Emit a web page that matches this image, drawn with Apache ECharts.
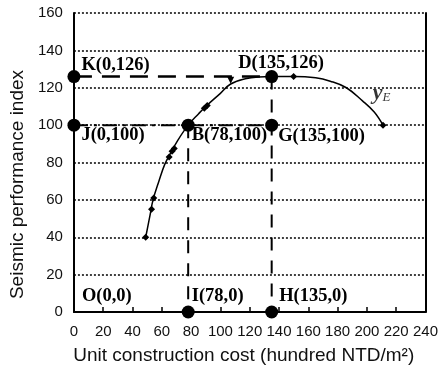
<!DOCTYPE html>
<html><head><meta charset="utf-8">
<script src="https://cdn.jsdelivr.net/npm/echarts@6/dist/echarts.min.js"></script>
<style>html,body{margin:0;padding:0;background:#fff}#c{width:441px;height:373px}</style>
</head><body><div id="c"></div>
<script>
// ---- data ----
const curveX = [49,52,54,58,62,66,71,78,85,90,100,107,117,126,135,150,165,175,186,197,205,211];
const curveY = [40,52,60,70,79,85,92,100,106,110,117,122,124.8,125.8,126,126,125.3,123.5,120,113,107,100];
const markerX = [49,53,54.5,65,67,68.5,89,91,150,211];
const markerY = [40,55,61,83,86,87.5,109,110.5,126,100];
const triX = [107];
const triY = [124];
const pointNames = ['K(0,126)','J(0,100)','B(78,100)','D(135,126)','G(135,100)','O(0,0)','I(78,0)','H(135,0)'];
const pointX = [0,0,78,135,135,0,78,135];
const pointY = [126,100,100,126,100,0,0,0];
const pointDot = [true,true,true,true,true,false,true,true];
const lineKD = [[0,126],[135,126]];
const lineJG = [[0,100],[135,100]];
const lineBI = [[78,100],[78,0]];
const lineDH = [[135,126],[135,0]];
const curveLabelPos = [210,117];
const xName = 'Unit construction cost (hundred NTD/m\u00B2)';
const yName = 'Seismic performance index';

// ---- styles ----
const labelOffsets = [[1,-11],[1,10],[-3,10],[-40,-13],[0,11],[8,-16],[-3,-16],[1,-16]];
const sans = '"Liberation Sans", Arial, sans-serif';
const serif = '"Liberation Serif", "Times New Roman", serif';

const keyData = pointNames.map((n,i)=>({
  value:[pointX[i],pointY[i]],
  name:n,
  symbolSize: pointDot[i]?13:0,
  label:{show:true,position:'right',distance:0,offset:labelOffsets[i],
    formatter:'{b}',fontFamily:serif,fontWeight:'bold',fontSize:18.5,color:'#000'}
}));

const chart = echarts.init(document.getElementById('c'));
chart.setOption({
  animation:false,
  grid:{left:73,right:10,top:13,bottom:61},
  xAxis:{type:'value',min:0,max:240,interval:20,
    name:xName,nameLocation:'middle',nameGap:34,
    nameTextStyle:{fontFamily:sans,fontSize:19,color:'#111',padding:[0,12,0,0]},
    axisLine:{lineStyle:{color:'#000',width:2}},
    axisTick:{inside:true,length:5,lineStyle:{color:'#000',width:1.5}},
    axisLabel:{fontFamily:sans,fontSize:15,color:'#111',margin:12},
    splitLine:{show:false}},
  yAxis:[{type:'value',min:0,max:160,interval:20,
    name:yName,nameLocation:'middle',nameGap:46,
    nameTextStyle:{fontFamily:sans,fontSize:19,color:'#111',padding:[0,44,0,0]},
    axisLine:{show:true,lineStyle:{color:'#000',width:2}},
    axisTick:{show:false},
    axisLabel:{fontFamily:sans,fontSize:15,color:'#111',margin:11},
    splitLine:{show:true,lineStyle:{color:'#000',width:1.5,type:[2,2]}}},
   {type:'value',min:0,max:160,interval:20,position:'right',
    axisLine:{show:true,lineStyle:{color:'#000',width:2}},
    axisTick:{show:false},axisLabel:{show:false},splitLine:{show:false}}],
  series:[
    {type:'line',data:lineKD,showSymbol:false,clip:false,z:3,
     lineStyle:{color:'#000',width:2.5,type:[18,10]}},
    {type:'line',data:lineJG,showSymbol:false,clip:false,z:3,
     lineStyle:{color:'#000',width:2,type:[14,6,3,6]}},
    {type:'line',data:lineBI,showSymbol:false,clip:false,z:3,
     lineStyle:{color:'#000',width:2,type:[13,10]}},
    {type:'line',data:lineDH,showSymbol:false,clip:false,z:3,
     lineStyle:{color:'#000',width:2,type:[13,10]}},
    {type:'line',data:curveX.map((x,i)=>[x,curveY[i]]),smooth:0.4,showSymbol:false,z:4,
     lineStyle:{color:'#000',width:1.5}},
    {type:'scatter',data:markerX.map((x,i)=>[x,markerY[i]]),symbol:'diamond',symbolSize:7,z:5,
     itemStyle:{color:'#000',opacity:1}},
    {type:'scatter',data:triX.map((x,i)=>[x,triY[i]]),symbol:'triangle',symbolRotate:180,symbolSize:7,z:5,
     itemStyle:{color:'#000',opacity:1}},
    {type:'scatter',data:keyData,clip:false,z:6,itemStyle:{color:'#000',opacity:1}},
    {type:'scatter',data:[{value:curveLabelPos,name:'yE'}],symbolSize:0,z:6,
     label:{show:true,position:'inside',
       formatter:'{y|y}{e|E}',
       rich:{y:{fontFamily:serif,fontStyle:'italic',fontWeight:'bold',fontSize:22,color:'#000'},
             e:{fontFamily:serif,fontStyle:'italic',fontSize:13,color:'#000',padding:[8,0,0,0]}}}}
  ]
});
</script></body></html>
